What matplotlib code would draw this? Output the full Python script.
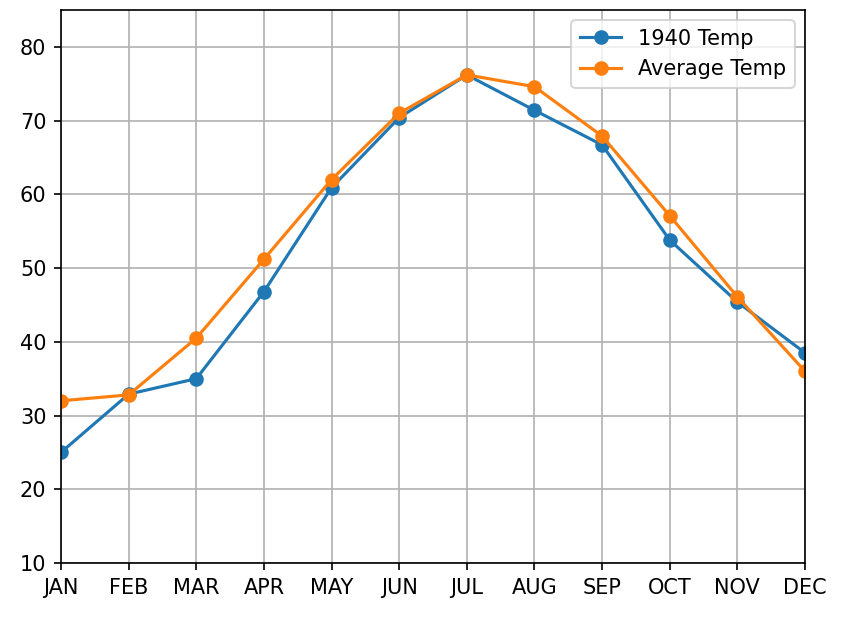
import matplotlib
matplotlib.use("Agg")
import matplotlib.pyplot as plt

months = ["JAN", "FEB", "MAR", "APR", "MAY", "JUN", "JUL", "AUG", "SEP", "OCT", "NOV", "DEC"]
temp_1940 = [25.0, 32.9, 35.0, 46.8, 60.9, 70.4, 76.2, 71.4, 66.7, 53.8, 45.4, 38.5]
temp_avg = [32.0, 32.8, 40.5, 51.2, 62.0, 71.0, 76.2, 74.6, 67.9, 57.1, 46.1, 36.0]

DPI = 150
fig = plt.figure(figsize=(841 / DPI, 619 / DPI), dpi=DPI)
ax = fig.add_axes([61/841, 56/619, 744/841, 553/619])
x = list(range(len(months)))
ax.plot(x, temp_1940, marker="o", color="#1f77b4", label="1940 Temp")
ax.plot(x, temp_avg, marker="o", color="#ff7f0e", label="Average Temp")
ax.set_xticks(x)
ax.set_xticklabels(months)
ax.set_xlim(0, 11)
ax.set_ylim(10, 85)
ax.set_yticks([10, 20, 30, 40, 50, 60, 70, 80])
ax.grid(True)
ax.legend(loc="upper right")
fig.savefig("out.png", dpi=DPI)
